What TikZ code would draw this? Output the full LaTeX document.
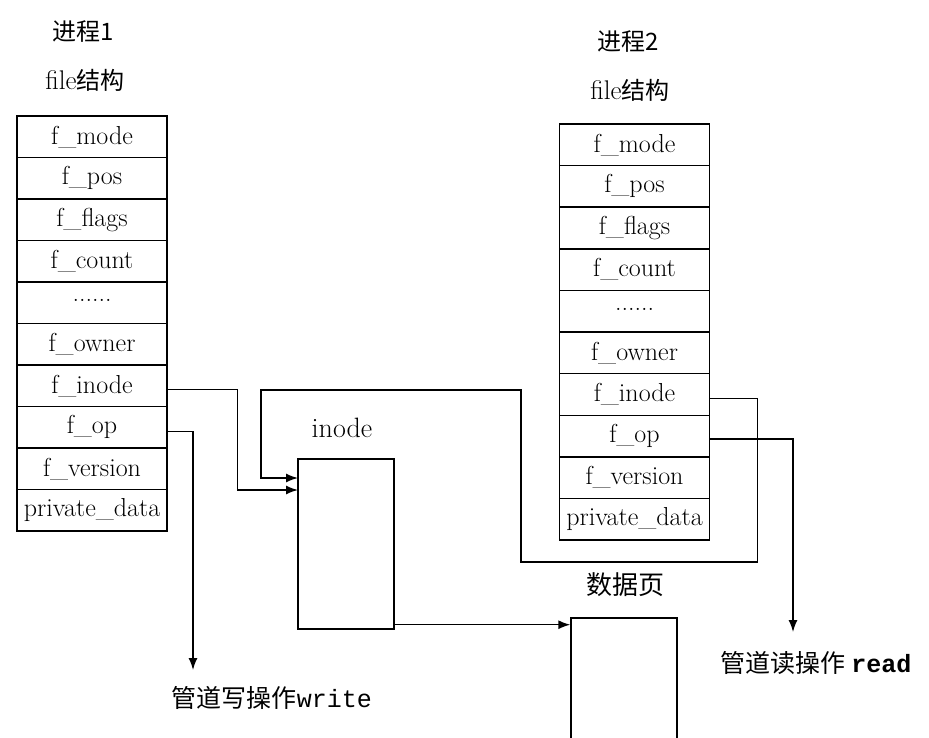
\documentclass[tikz,border=0pt]{standalone}
\usepackage{fontspec}
\newfontfamily\cjk{Noto Sans CJK SC}
\setmonofont{Liberation Mono}
\usetikzlibrary{arrows.meta}
\def\omitrow{\raisebox{4pt}{......}}
\tikzset{
  field/.style={draw, line width=1.4pt, minimum width=150pt, minimum height=41.5pt, inner sep=0pt, font=\fontsize{26}{28}\selectfont},
  block/.style={draw, line width=1.4pt, inner sep=0pt},
  lab/.style={font=\fontsize{24}{26}\selectfont}
}
\begin{document}
\begin{tikzpicture}[x=1pt,y=-1pt,>={Latex[length=12pt,width=9pt]}, line join=miter]
			\clip (0,0) rectangle (929,738);
			\fill[white] (0,0) rectangle (929,738);
			% file结构 of both processes
			\foreach \f [count=\i] in {f\_mode,f\_pos,f\_flags,f\_count,\omitrow,f\_owner,f\_inode,f\_op,f\_version,private\_data}{
				\node[field] (a\i) at (92,{116+41.5*(\i-0.5)}) {\f};
				\node[field, minimum height=41.6pt] (b\i) at (634.5,{124+41.6*(\i-0.5)}) {\f};
			}
			\node[lab] (p1) at (83,32) {\cjk 进程1};
			\node[lab] (s1) at (85,80) {\fontsize{27}{28}\selectfont file\cjk\fontsize{24}{26}\selectfont 结构};
			\node[lab] (p2) at (628,42) {\cjk 进程2};
			\node[lab] (s2) at (630,90) {\fontsize{27}{28}\selectfont file\cjk\fontsize{24}{26}\selectfont 结构};
			% inode and data page
			\node[block, minimum width=96pt, minimum height=170pt] (inode) at (346,544) {};
			\node[lab, font=\fontsize{28}{30}\selectfont] (ilab) at (342,428) {inode};
			\node[block, minimum width=106pt, minimum height=140pt] (page) at (624,688) {};
			\node[lab, font=\fontsize{26}{28}\selectfont] (plab) at (625,585) {\cjk 数据页};
			\coordinate (in1) at (298,490);
			\coordinate (in2) at (298,478);
			\coordinate (w) at (193,670);
			\coordinate (r) at (793,632);
			\node[lab, font=\fontsize{25}{27}\selectfont] (wlab) at (272,698) {\cjk 管道写操作\ttfamily write};
			\node[lab, font=\fontsize{25}{27}\selectfont] (rlab) at (816,663) {\cjk 管道读操作 \ttfamily\bfseries read};
			% connectors
			\begin{scope}[line width=1.4pt]
			\draw[->] ([yshift=-4pt]a7.east) -- ++(70,0) |- (in1);
			\draw[->] ([yshift=-4pt]b7.east) -- ++(47,0) |- (521,562) |- (261,390) |- (in2);
			\draw[->] ([yshift=-4pt]a8.east) -| (w);
			\draw[->] ([yshift=-3pt]b8.east) -| (r);
			\draw[->] ([yshift=5pt]inode.south east) -- ([yshift=5pt]inode.south east -| page.west);
			\end{scope}
\end{tikzpicture}
\end{document}
